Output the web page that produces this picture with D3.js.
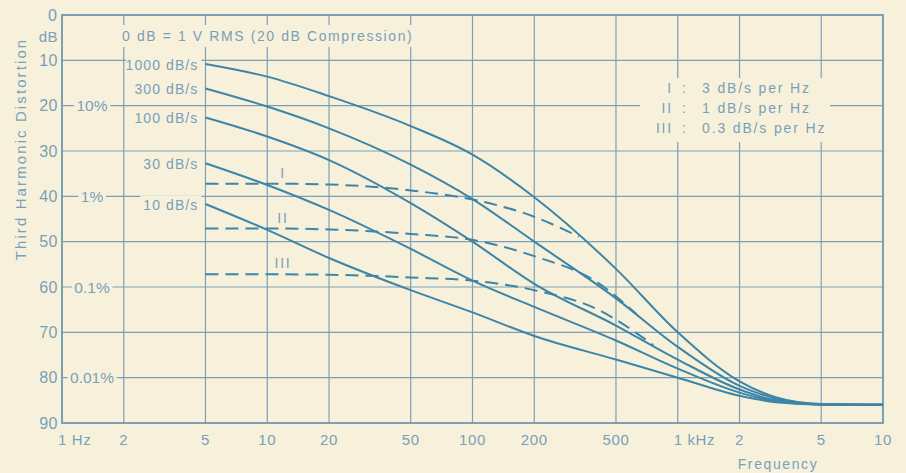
<!DOCTYPE html>
<html>
<head>
<meta charset="utf-8">
<script src="https://cdn.jsdelivr.net/npm/d3@7"></script>
<style>
  html, body { margin: 0; padding: 0; background: #f7f1dc; }
  svg { display: block; }
  text { font-family: "Liberation Sans", Arial, sans-serif; fill: #77a0b9; }
</style>
</head>
<body>
<svg id="chart" width="906" height="473"></svg>
<script>
// ---------------- DATA ----------------
const xTickValues = [1, 2, 5, 10, 20, 50, 100, 200, 500, 1000, 2000, 5000, 10000];
const xTickLabels = ["1 Hz", "2", "5", "10", "20", "50", "100", "200", "500", "1 kHz", "2", "5", "10"];
const yTickValues = [10, 20, 30, 40, 50, 60, 70, 80, 90];
const pctLabels = ["10%", "1%", "0.1%", "0.01%"];
const pctDb = [20, 40, 60, 80];

const curveFreqs = [5, 10, 20, 50, 100, 200, 500, 1000, 2000, 3000, 5000, 10000];
const seriesNames = ["1000 dB/s", "300 dB/s", "100 dB/s", "30 dB/s", "10 dB/s"];
const s1000 = [10.8, 13.6, 17.9, 24.5, 30.8, 40.2, 56.0, 70.0, 80.8, 84.3, 85.8, 86.0];
const s300  = [16.2, 20.2, 25.0, 33.0, 40.6, 50.0, 62.5, 73.2, 81.8, 84.6, 85.9, 86.0];
const s100  = [22.6, 26.8, 32.0, 41.5, 50.0, 59.3, 68.5, 76.0, 82.6, 85.0, 85.9, 86.0];
const s30   = [32.7, 37.5, 43.0, 51.6, 58.6, 64.4, 71.8, 78.0, 83.3, 85.2, 85.9, 86.0];
const s10   = [41.7, 47.4, 53.6, 60.7, 65.6, 70.8, 76.0, 80.0, 84.0, 85.4, 85.9, 86.0];

const dashNames = ["I", "II", "III"];
const dashIFreqs   = [5, 10, 20, 35, 50, 100, 200, 330];
const dashIValues  = [37.2, 37.2, 37.4, 38.0, 38.7, 40.7, 44.5, 48.9];
const dashIIFreqs  = [5, 10, 20, 35, 50, 100, 200, 400, 630];
const dashIIValues = [47.1, 47.1, 47.3, 47.8, 48.3, 49.6, 53.2, 58.8, 66.0];
const dashIIIFreqs  = [5, 10, 20, 35, 50, 100, 200, 400, 760];
const dashIIIValues = [57.2, 57.2, 57.3, 57.6, 57.9, 58.6, 60.7, 64.8, 72.8];

const legendNumerals = ["I", "II", "III"];
const legendTexts = ["3 dB/s per Hz", "1 dB/s per Hz", "0.3 dB/s per Hz"];
const noteText = "0 dB = 1 V RMS (20 dB Compression)";

// ---------------- LAYOUT ----------------
const BG = "#f7f1dc", GRID = "#7c9fb5", CURVE = "#3c85a7", BORDER = "#6593ae";
const L = 62, R = 883, T = 15, B = 423;
const svg = d3.select("#chart");
svg.append("rect").attr("width", 906).attr("height", 473).attr("fill", BG);

const x = d3.scaleLog().domain([1, 10000]).range([L, R]);
const y = d3.scaleLinear().domain([0, 90]).range([T, B]);

// grid
const grid = svg.append("g");
grid.selectAll("line.v").data(xTickValues.slice(1, -1)).join("line")
  .attr("x1", d => x(d)).attr("x2", d => x(d)).attr("y1", T).attr("y2", B)
  .attr("stroke", GRID).attr("stroke-width", 1.2);
grid.selectAll("line.h").data(yTickValues.slice(0, -1)).join("line")
  .attr("x1", L).attr("x2", R).attr("y1", d => y(d)).attr("y2", d => y(d))
  .attr("stroke", GRID).attr("stroke-width", 1.2);

// frame
svg.append("rect").attr("x", L).attr("y", T).attr("width", R - L).attr("height", B - T)
  .attr("fill", "none").attr("stroke", BORDER).attr("stroke-width", 1.7);

const masks = svg.append("g");
const texts = svg.append("g");

function masked(t, padX, padY, minX) {
  const b = t.node().getBBox();
  let x0 = b.x - padX;
  if (minX !== undefined) x0 = Math.max(x0, minX);
  masks.append("rect").attr("x", x0).attr("y", b.y - padY)
    .attr("width", b.x + b.width + padX - x0).attr("height", b.height + 2 * padY)
    .attr("fill", BG);
}

// note text
const note = texts.append("text").attr("x", 122).attr("y", 41)
  .attr("font-size", 14).attr("letter-spacing", 1.6).text(noteText);
{
  const b = note.node().getBBox();
  masks.append("rect").attr("x", b.x - 2).attr("y", 25).attr("width", b.width + 2).attr("height", 22).attr("fill", BG);
}

// percent labels
pctLabels.forEach((s, i) => {
  const t = texts.append("text").attr("x", 92).attr("y", y(pctDb[i]) + 5.5)
    .attr("text-anchor", "middle").attr("font-size", 15.5).text(s);
  masked(t, 2.5, 0);
});

// legend
const legRowY = [93, 112.5, 132.5];
legendNumerals.forEach((s, i) => {
  texts.append("text").attr("x", 673).attr("y", legRowY[i]).attr("text-anchor", "end")
    .attr("font-size", 14).attr("letter-spacing", 1.8).text(s);
  texts.append("text").attr("x", 684).attr("y", legRowY[i]).attr("text-anchor", "middle")
    .attr("font-size", 14).text(":");
  texts.append("text").attr("x", 702).attr("y", legRowY[i])
    .attr("font-size", 14).attr("letter-spacing", 1.85).text(legendTexts[i]);
});
masks.append("rect").attr("x", 640).attr("y", 78).attr("width", 190).attr("height", 64).attr("fill", BG);

// curves
const line = d3.line().x(d => x(d[0])).y(d => y(d[1])).curve(d3.curveMonotoneX);
const solid = [s1000, s300, s100, s30, s10];
const curves = svg.append("g");
solid.forEach((vals, i) => {
  const pts = curveFreqs.map((f, j) => [f, vals[j]]);
  curves.append("path").attr("d", line(pts)).attr("fill", "none")
    .attr("stroke", CURVE).attr("stroke-width", 2);
  const t = texts.append("text").attr("x", x(curveFreqs[0]) - 7).attr("y", y(vals[0]) + 6)
    .attr("text-anchor", "end").attr("font-size", 14).attr("letter-spacing", 1.1).text(seriesNames[i]);
  masked(t, 3, 1.5, 126);
});

const dashSets = [[dashIFreqs, dashIValues], [dashIIFreqs, dashIIValues], [dashIIIFreqs, dashIIIValues]];
dashSets.forEach(([fs, vs], i) => {
  const pts = fs.map((f, j) => [f, vs[j]]);
  curves.append("path").attr("d", line(pts)).attr("fill", "none")
    .attr("stroke", CURVE).attr("stroke-width", 2).attr("stroke-dasharray", "13,7");
  texts.append("text").attr("x", 283).attr("y", y(vs[0]) - 6)
    .attr("text-anchor", "middle").attr("font-size", 14).attr("letter-spacing", 1.8).text(dashNames[i]);
});

texts.raise();

// y axis labels
texts.append("text").attr("x", 57).attr("y", y(0) + 5.5).attr("text-anchor", "end")
  .attr("font-size", 16).text("0");
texts.append("text").attr("x", 58).attr("y", 42).attr("text-anchor", "end")
  .attr("font-size", 15).attr("letter-spacing", 0.5).text("dB");
yTickValues.forEach(v => {
  texts.append("text").attr("x", 58).attr("y", y(v) + 5.5).attr("text-anchor", "end")
    .attr("font-size", 16).attr("letter-spacing", 0.5).text(v);
});

// x axis labels
xTickValues.forEach((v, i) => {
  const lab = xTickLabels[i];
  const t = texts.append("text").attr("y", 445).attr("font-size", 15).attr("letter-spacing", 0.6).text(lab);
  if (lab.indexOf("Hz") >= 0) {
    t.attr("x", x(v) - 4).attr("text-anchor", "start");
  } else {
    t.attr("x", x(v)).attr("text-anchor", "middle");
  }
});

texts.append("text").attr("x", 778).attr("y", 469).attr("text-anchor", "middle")
  .attr("font-size", 14).attr("letter-spacing", 1.6).text("Frequency");

texts.append("text").attr("transform", "translate(26,149) rotate(-90)")
  .attr("text-anchor", "middle").attr("font-size", 15).attr("letter-spacing", 2.1)
  .text("Third Harmonic Distortion");
</script>
</body>
</html>
